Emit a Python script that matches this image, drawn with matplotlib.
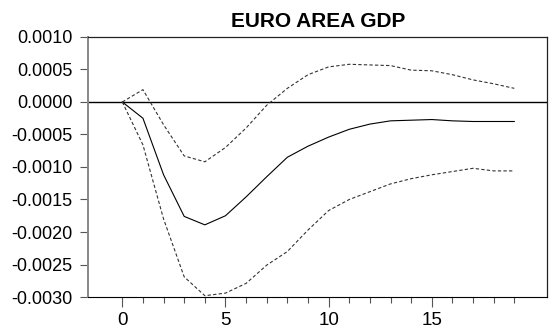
import numpy as np
import matplotlib.pyplot as plt
from matplotlib.ticker import FixedLocator, FormatStrFormatter, MultipleLocator

plt.rcParams['font.family'] = ['Liberation Sans', 'DejaVu Sans']
plt.rcParams['axes.unicode_minus'] = False

# impulse response of euro area GDP, with error bands
horizon = np.arange(20)
response = [0.0, -0.00025, -0.00112, -0.00176, -0.00189, -0.00175, -0.00146,
            -0.00115, -0.00085, -0.00068, -0.00054, -0.00042, -0.00034,
            -0.00029, -0.00028, -0.00027, -0.00029, -0.00030, -0.00030,
            -0.00030]
upper = [0.0, 0.00019, -0.00035, -0.00083, -0.00092, -0.00070, -0.00040,
         -0.00005, 0.00021, 0.00042, 0.00054, 0.00058, 0.00057, 0.00056,
         0.00049, 0.00048, 0.00042, 0.00034, 0.00028, 0.00021]
lower = [0.0, -0.00066, -0.00180, -0.00269, -0.00298, -0.00294, -0.00279,
         -0.00251, -0.00230, -0.00197, -0.00167, -0.00150, -0.00138,
         -0.00126, -0.00118, -0.00112, -0.00107, -0.00102, -0.00106,
         -0.00106]
major_x = [0, 5, 10, 15]

fig = plt.figure(figsize=(5.53, 3.32), dpi=100)
ax = fig.add_axes([0.160, 0.1054, 0.8297, 0.7832])

ax.axhline(0, color='black', lw=1.0)
ax.plot(horizon, response, color='black', lw=0.8)
ax.plot(horizon, upper, color='#333333', lw=0.8, ls=(0, (3, 2)))
ax.plot(horizon, lower, color='#333333', lw=0.8, ls=(0, (3, 2)))

ax.set_xlim(-1.64, 20.6)
ax.set_ylim(-0.003, 0.001)
ax.xaxis.set_major_locator(FixedLocator(major_x))
ax.xaxis.set_minor_locator(FixedLocator([h for h in horizon if h not in major_x]))
ax.yaxis.set_major_locator(MultipleLocator(0.0005))
ax.yaxis.set_major_formatter(FormatStrFormatter('%.4f'))

ax.tick_params(axis='x', which='major', length=7.2, width=0.8, pad=3.6,
               labelsize=13.5, color='#555555')
ax.tick_params(axis='x', which='minor', length=4.3, width=0.8,
               color='#555555')
ax.tick_params(axis='y', length=5.8, width=0.8, pad=5.8, labelsize=13,
               color='#555555')

ax.spines['left'].set_color('#888888')
ax.spines['left'].set_linewidth(1.4)
ax.spines['bottom'].set_color('black')
for side in ['top', 'right']:
    ax.spines[side].set_color('#222222')
    ax.spines[side].set_linewidth(0.9)

ax.set_title('EURO AREA GDP', fontsize=15, fontweight='bold', pad=7)

fig.savefig('out.png', dpi=100)
